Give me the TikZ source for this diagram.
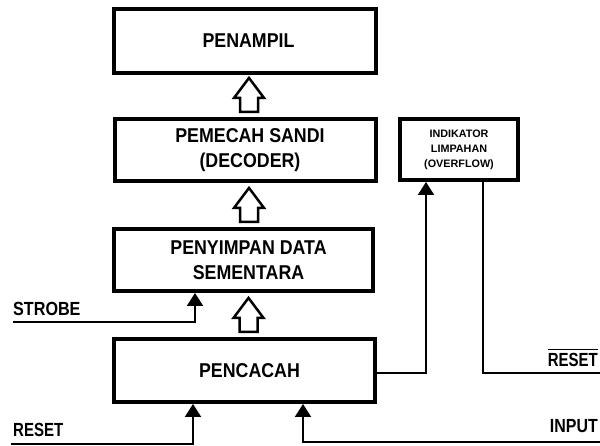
\documentclass[tikz,border=0pt]{standalone}
\usepackage{fontspec}
\usepackage{graphicx}
\setmainfont{Liberation Sans}
\usetikzlibrary{arrows.meta,calc}
\newcommand{\myoverline}[1]{\vbox{\hrule height 1.5pt\kern 3.5pt\hbox{#1}}}
\newcommand{\bx}[1]{\scalebox{0.89}[1]{#1}}
\begin{document}
\begin{tikzpicture}[x=1pt,y=1pt,
  blk/.style={draw,line width=4pt,inner sep=0pt,align=center,font=\fontsize{20}{25}\selectfont\bfseries},
  indblk/.style={draw,line width=4pt,inner sep=0pt,align=center,font=\fontsize{10.8}{15}\selectfont\bfseries},
  conn/.style={line width=2pt},
  tipped/.style={-{Triangle[width=16pt,length=13pt]}},
  hollow/.style={line width=2.5pt,fill=white,miter limit=10},
  sig/.style={inner sep=0pt,font=\fontsize{19}{19}\selectfont\bfseries},
  pics/harrow/.style={code={\draw[hollow] (0,0) -- (15,-20) -- (9,-20) -- (9,-34) -- (-9,-34) -- (-9,-20) -- (-15,-20) -- cycle;}}]
\useasboundingbox (0,0) rectangle (600,446);
% boxes
\node[blk,minimum width=262pt,minimum height=64pt] (b1) at (245,405) {\hspace*{7pt}\bx{PENAMPIL}};
\node[blk,minimum width=261pt,minimum height=62pt] (b2) at (245,296) {\hspace*{10pt}\bx{PEMECAH SANDI}\\\hspace*{10pt}\bx{(DECODER)}};
\node[blk,minimum width=259pt,minimum height=62pt] (b3) at (243.5,186) {\hspace*{10pt}\bx{PENYIMPAN DATA}\\\hspace*{10pt}\bx{SEMENTARA}};
\node[blk,minimum width=261pt,minimum height=63pt] (b4) at (244.5,75.5) {\hspace*{10pt}\bx{PENCACAH}};
\node[indblk,minimum width=118pt,minimum height=61pt] (ind) at (459,296.5) {INDIKATOR\\LIMPAHAN\\(OVERFLOW)};
% hollow arrows
\pic at ([xshift=4pt,yshift=-3pt]b1.south) {harrow};
\pic at ([xshift=4pt,yshift=-5pt]b2.south) {harrow};
\pic at ([xshift=5pt,yshift=-5pt]b3.south) {harrow};
% signal lines
\coordinate (strobe) at (13,124);
\draw[conn,tipped] (strobe) -| ([xshift=-48.5pt]b3.south);
\coordinate (rst1) at (11,2);
\draw[conn,tipped] (rst1) -| ([xshift=-51.5pt]b4.south);
\coordinate (inp) at (600,4);
\draw[conn,tipped] (inp) -| ([xshift=58.5pt]b4.south);
\draw[conn,tipped] ([yshift=-2.5pt]b4.east) -| ([xshift=-33pt]ind.south);
\coordinate (rst2) at (600,73);
\draw[conn] ([xshift=24pt]ind.south) |- (rst2);
% labels
\node[sig,anchor=base west] (lstrobe) at (13,130) {\scalebox{0.85}[1]{STROBE}};
\node[sig,anchor=base west] (lrst1) at (13,9) {\scalebox{0.79}[1]{RESET}};
\node[sig,anchor=base east] (lrst2) at (598,79) {\scalebox{0.79}[1]{\myoverline{RESET}}};
\node[sig,anchor=base east] (linp) at (598,13) {\scalebox{0.84}[1]{INPUT}};
\end{tikzpicture}
\end{document}
